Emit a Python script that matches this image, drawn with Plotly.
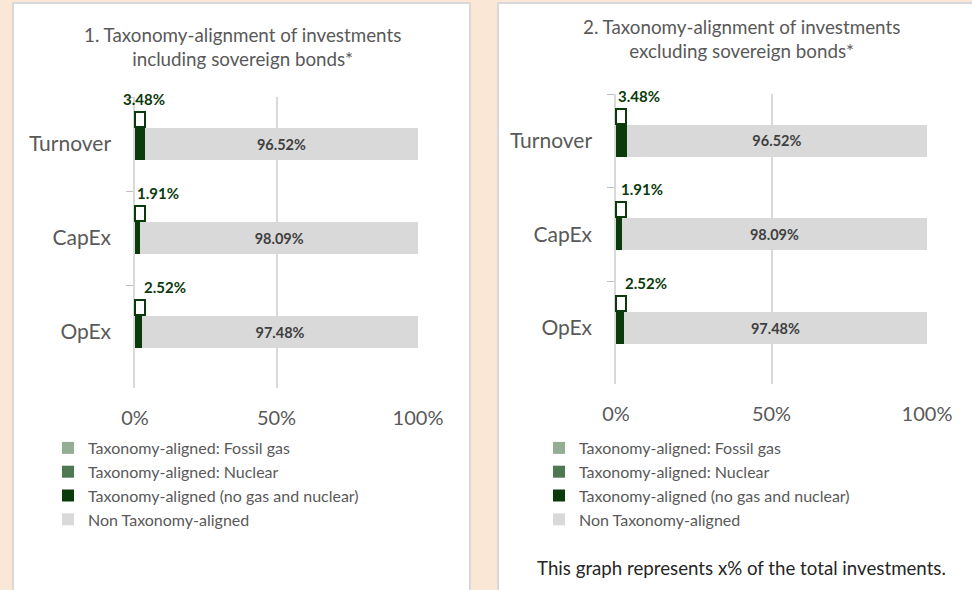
import plotly.graph_objects as go

categories = ["Turnover", "CapEx", "OpEx"]
series_names = [
    "Taxonomy-aligned: Fossil gas",
    "Taxonomy-aligned: Nuclear",
    "Taxonomy-aligned (no gas and nuclear)",
    "Non Taxonomy-aligned",
]
series_colors = ["#93AE93", "#4F7752", "#0B3A0B", "#D9D9D9"]

# chart 1: including sovereign bonds
incl_fossil_gas = [0.0, 0.0, 0.0]
incl_nuclear = [0.0, 0.0, 0.0]
incl_aligned = [3.48, 1.91, 2.52]
incl_non_aligned = [96.52, 98.09, 97.48]

# chart 2: excluding sovereign bonds
excl_fossil_gas = [0.0, 0.0, 0.0]
excl_nuclear = [0.0, 0.0, 0.0]
excl_aligned = [3.48, 1.91, 2.52]
excl_non_aligned = [96.52, 98.09, 97.48]

x_ticks = [0, 50, 100]
x_tick_labels = ["0%", "50%", "100%"]

titles = [
    "1. Taxonomy-alignment of investments<br>including sovereign bonds*",
    "2. Taxonomy-alignment of investments<br>excluding sovereign bonds*",
]
footnote = "This graph represents x% of the total investments."

FONT = "Lato, 'Open Sans', sans-serif"
GREY_TEXT = "#595959"
W, H = 972, 590


def px(x):
    return x / W


def py(y):
    return 1 - y / H


fig = go.Figure()

panels = [
    {
        "data": [incl_fossil_gas, incl_nuclear, incl_aligned, incl_non_aligned],
        "xa": "x", "ya": "y", "legend": "legend",
        "label_shift": [-14, 0, 7],
    },
    {
        "data": [excl_fossil_gas, excl_nuclear, excl_aligned, excl_non_aligned],
        "xa": "x2", "ya": "y2", "legend": "legend2",
        "label_shift": [0, 3, 7],
    },
]

for p in panels:
    for i, (name, vals) in enumerate(zip(series_names, p["data"])):
        is_non = i == 3
        fig.add_trace(
            go.Bar(
                y=categories,
                x=vals,
                orientation="h",
                name=name,
                marker=dict(color=series_colors[i], line=dict(width=0)),
                xaxis=p["xa"],
                yaxis=p["ya"],
                legend=p["legend"],
                legendgroup=p["legend"] + str(i),
                text=[f"{v:.2f}%" for v in vals] if is_non else None,
                texttemplate="%{text}" if is_non else None,
                textposition="inside" if is_non else "none",
                insidetextanchor="middle",
                textfont=dict(family=FONT, size=14.5, color="#404040", weight="bold"),
                hoverinfo="x+y+name",
            )
        )

    # callout box and value label above the aligned segment
    aligned = p["data"][2]
    for j, cat in enumerate(categories):
        fig.add_annotation(
            x=0, y=cat, xref=p["xa"], yref=p["ya"],
            text=" ", showarrow=False, xanchor="left", yanchor="bottom",
            width=8, height=13, yshift=16, xshift=-1,
            bgcolor="white", bordercolor="#0B3A0B", borderwidth=2, borderpad=0,
        )
        fig.add_annotation(
            x=0, y=cat, xref=p["xa"], yref=p["ya"],
            text=f"<b>{aligned[j]:.2f}%</b>", showarrow=False,
            xanchor="left", yanchor="bottom", yshift=34, xshift=p["label_shift"][j],
            font=dict(family=FONT, size=15, color="#0B3A0B"),
        )

axis_common_x = dict(
    range=[0, 100], tickvals=x_ticks, ticktext=x_tick_labels,
    showgrid=True, gridcolor="#D9D9D9", gridwidth=1.5, zeroline=False,
    showline=False, ticks="", ticklabelstandoff=16, automargin=False,
    tickfont=dict(family=FONT, size=20, color=GREY_TEXT),
    fixedrange=True,
)
axis_common_y = dict(
    type="category", autorange="reversed", showgrid=False, zeroline=False,
    showline=True, linecolor="#D9D9D9", linewidth=1.5,
    ticks="outside", tickson="boundaries", ticklen=7, tickcolor="#BFBFBF",
    ticklabelstandoff=18, automargin=False,
    tickfont=dict(family=FONT, size=21, color=GREY_TEXT),
    fixedrange=True,
)

legend_common = dict(
    xanchor="left", yanchor="top",
    traceorder="normal", tracegroupgap=5, itemwidth=30,
    font=dict(family=FONT, size=16, color=GREY_TEXT),
    bgcolor="rgba(0,0,0,0)",
)

fig.update_layout(
    width=W, height=H,
    margin=dict(l=0, r=0, t=0, b=0, autoexpand=False),
    paper_bgcolor="#FAE7D5",
    plot_bgcolor="rgba(0,0,0,0)",
    barmode="stack",
    bargap=0.66,
    font=dict(family=FONT, color=GREY_TEXT),
    xaxis=dict(domain=[px(135), px(418)], anchor="y", **axis_common_x),
    yaxis=dict(domain=[py(388), py(97)], anchor="x", **axis_common_y),
    xaxis2=dict(domain=[px(616), px(927)], anchor="y2", **axis_common_x),
    yaxis2=dict(domain=[py(384), py(94)], anchor="x2", **axis_common_y),
    legend=dict(x=px(48), y=py(431), **legend_common),
    legend2=dict(x=px(539), y=py(431), **legend_common),
    shapes=[
        dict(type="rect", xref="paper", yref="paper", layer="below",
             x0=px(13), x1=px(470), y0=-0.05, y1=py(3),
             fillcolor="white", line=dict(color="#D9D9D9", width=2)),
        dict(type="rect", xref="paper", yref="paper", layer="below",
             x0=px(498), x1=1.05, y0=-0.05, y1=py(3),
             fillcolor="white", line=dict(color="#D9D9D9", width=2)),
    ],
    showlegend=True,
)

fig.add_annotation(
    x=px(242), y=py(47), xref="paper", yref="paper", text=titles[0],
    showarrow=False, xanchor="center", yanchor="middle",
    font=dict(family=FONT, size=18.8, color=GREY_TEXT),
)
fig.add_annotation(
    x=px(741), y=py(39), xref="paper", yref="paper", text=titles[1],
    showarrow=False, xanchor="center", yanchor="middle",
    font=dict(family=FONT, size=18.8, color=GREY_TEXT),
)
fig.add_annotation(
    x=px(741), y=py(568), xref="paper", yref="paper", text=footnote,
    showarrow=False, xanchor="center", yanchor="middle",
    font=dict(family=FONT, size=18.7, color="#262626"),
)

# the page's default body margin would shift the figure by 8px
fig.write_html(
    "out.html",
    config={"displayModeBar": False},
    post_script="document.body.style.margin = '0px';",
)
